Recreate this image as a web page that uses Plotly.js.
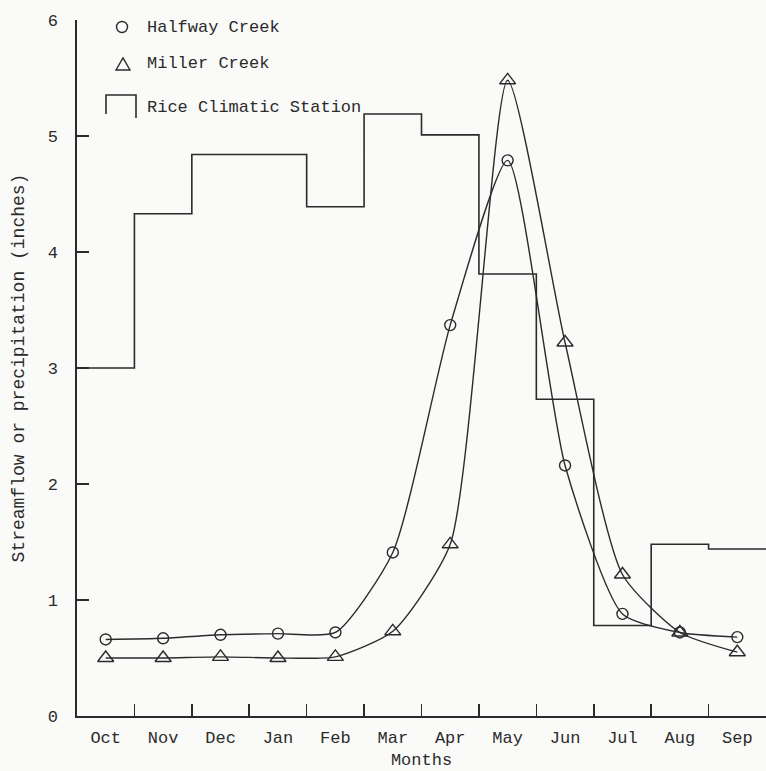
<!DOCTYPE html>
<html>
<head>
<meta charset="utf-8">
<script src="https://cdn.plot.ly/plotly-3.0.1.min.js"></script>
<style>
  html, body { margin: 0; padding: 0; background: #fafaf8; }
  #chart { width: 766px; height: 771px; }
</style>
</head>
<body>
<div id="chart"></div>
<script>
// ---- data ----
const months = ['Oct','Nov','Dec','Jan','Feb','Mar','Apr','May','Jun','Jul','Aug','Sep'];
const halfwayCreek = [0.66, 0.67, 0.70, 0.71, 0.72, 1.41, 3.37, 4.79, 2.16, 0.88, 0.72, 0.68];
const millerCreek  = [0.50, 0.50, 0.51, 0.50, 0.51, 0.73, 1.48, 5.48, 3.22, 1.22, 0.72, 0.55];
const riceClimatic = [3.00, 4.33, 4.84, 4.84, 4.39, 5.19, 5.01, 3.81, 2.73, 0.78, 1.48, 1.44];
const yTicks = [0, 1, 2, 3, 4, 5, 6];

// ---- styling ----
const INK = '#2b2b2b';
const FONT = 'Liberation Mono, DejaVu Sans Mono, monospace';

const idx = months.map((_, i) => i);
// month boundaries for step series and boundary ticks
const edges = months.map((_, i) => i - 0.5).concat([months.length - 0.5]);
const riceY = riceClimatic.concat([riceClimatic[riceClimatic.length - 1]]);
const boundaryTicks = months.slice(1).map((_, i) => i + 0.5);

const traces = [
  {
    x: edges, y: riceY, type: 'scatter', mode: 'lines',
    line: { shape: 'hv', color: INK, width: 1.6 },
    name: 'Rice Climatic Station', hoverinfo: 'skip'
  },
  {
    x: idx, y: halfwayCreek, type: 'scatter', mode: 'lines+markers',
    line: { shape: 'spline', smoothing: 0.6, color: INK, width: 1.4 },
    marker: { symbol: 'circle-open', size: 11, color: INK, line: { width: 1.4, color: INK } },
    name: 'Halfway Creek'
  },
  {
    x: idx, y: millerCreek, type: 'scatter', mode: 'lines+markers',
    line: { shape: 'spline', smoothing: 0.6, color: INK, width: 1.4 },
    marker: { symbol: 'triangle-up-open', size: 14, color: INK, line: { width: 1.4, color: INK } },
    name: 'Miller Creek'
  }
];

// plot-area geometry used only to place the hand-drawn legend
const L = 77, R = 766, T = 20, B = 716;
const W = R - L, H = B - T;
const px = x => (x - L) / W;
const py = y => (B - y) / H;

const legendItems = [
  { text: 'Halfway Creek', y: 27 },
  { text: 'Miller Creek', y: 64 },
  { text: 'Rice Climatic Station', y: 108 }
];

const annotations = legendItems.map(it => ({
  xref: 'paper', yref: 'paper', x: px(145), y: py(it.y),
  xanchor: 'left', yanchor: 'middle', showarrow: false,
  text: it.text, font: { family: FONT, size: 17, color: INK }
}));

const shapes = [
  // circle symbol
  { type: 'circle', xref: 'paper', yref: 'paper',
    x0: px(116.5), x1: px(127.5), y0: py(32.5), y1: py(21.5),
    line: { color: INK, width: 1.4 } },
  // triangle symbol
  { type: 'path', xref: 'paper', yref: 'paper',
    path: `M ${px(116)} ${py(70)} L ${px(130)} ${py(70)} L ${px(123)} ${py(58)} Z`,
    line: { color: INK, width: 1.4 } },
  // step symbol
  { type: 'path', xref: 'paper', yref: 'paper',
    path: `M ${px(106)} ${py(114)} L ${px(106)} ${py(95)} L ${px(136)} ${py(95)} L ${px(136)} ${py(118)}`,
    line: { color: INK, width: 1.6 } }
];

const layout = {
  width: 766, height: 771,
  margin: { l: L, r: 766 - R, t: T, b: 771 - B },
  paper_bgcolor: '#fafaf8', plot_bgcolor: '#fafaf8',
  showlegend: false,
  font: { family: FONT, size: 17, color: INK },
  xaxis: {
    range: [-0.5, months.length - 0.5],
    tickmode: 'array', tickvals: idx, ticktext: months,
    ticks: '', showgrid: false, zeroline: false,
    showline: true, linecolor: INK, linewidth: 1.6,
    ticklabelstandoff: 5,
    tickfont: { family: FONT, size: 17, color: INK },
    minor: { tickmode: 'array', tickvals: boundaryTicks, ticks: 'inside', ticklen: 12,
             tickwidth: 1.6, tickcolor: INK, showgrid: false },
    title: { text: 'Months', font: { family: FONT, size: 17, color: INK }, standoff: 6 }
  },
  yaxis: {
    range: [0, 6],
    tickmode: 'array', tickvals: yTicks, ticktext: yTicks.map(String),
    ticks: 'inside', ticklen: 12, tickwidth: 1.6, tickcolor: INK,
    showgrid: false, zeroline: false,
    showline: true, linecolor: INK, linewidth: 1.6,
    ticklabelstandoff: 14,
    tickfont: { family: FONT, size: 17, color: INK },
    title: { text: 'Streamflow or precipitation (inches)',
             font: { family: FONT, size: 18, color: INK }, standoff: 18 }
  },
  annotations: annotations,
  shapes: shapes
};

Plotly.newPlot('chart', traces, layout, { displayModeBar: false, staticPlot: true });
</script>
</body>
</html>
